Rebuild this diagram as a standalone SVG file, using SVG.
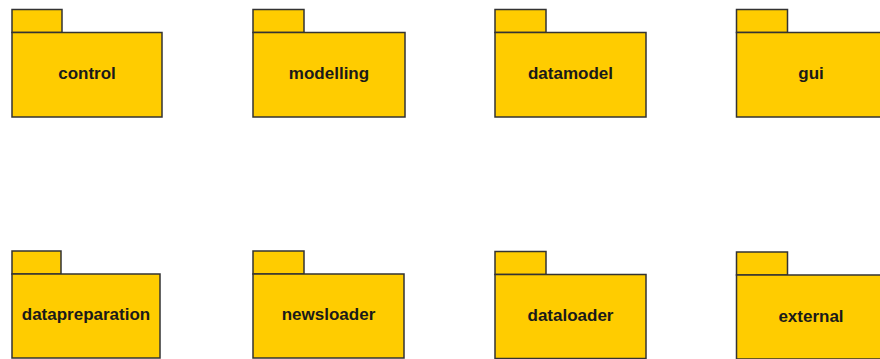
<svg xmlns="http://www.w3.org/2000/svg" width="880" height="359" viewBox="0 0 880 359">
  <style>
    .pkg rect { fill: #FFCC00; stroke: #333333; stroke-width: 1.5; }
    .pkg text { font-family: "Liberation Sans", Arial, sans-serif; font-weight: bold; font-size: 17px; fill: #1a1a1a; text-anchor: middle; }
  </style>
  <rect width="880" height="359" fill="#ffffff"/>

  <!-- top row of packages -->
  <g id="control" class="pkg">
    <rect x="12" y="9.5" width="50" height="23"/>
    <rect x="12" y="32.5" width="150" height="84.5"/>
    <text x="87" y="79">control</text>
  </g>
  <g id="modelling" class="pkg">
    <rect x="253" y="9.5" width="51" height="23"/>
    <rect x="253" y="32.5" width="152" height="84.5"/>
    <text x="329" y="79">modelling</text>
  </g>
  <g id="datamodel" class="pkg">
    <rect x="495" y="9.5" width="51" height="23"/>
    <rect x="495" y="32.5" width="151" height="84.5"/>
    <text x="570.5" y="79">datamodel</text>
  </g>
  <g id="gui" class="pkg">
    <rect x="736.5" y="9.5" width="51" height="23"/>
    <rect x="736.5" y="32.5" width="150" height="84.5"/>
    <text x="811" y="79">gui</text>
  </g>

  <!-- bottom row of packages -->
  <g id="datapreparation" class="pkg">
    <rect x="12" y="251" width="49" height="23"/>
    <rect x="12" y="274" width="148" height="84"/>
    <text x="86" y="320">datapreparation</text>
  </g>
  <g id="newsloader" class="pkg">
    <rect x="253" y="251" width="51" height="23"/>
    <rect x="253" y="274" width="151" height="84"/>
    <text x="328.5" y="320">newsloader</text>
  </g>
  <g id="dataloader" class="pkg">
    <rect x="495" y="251.5" width="51" height="23"/>
    <rect x="495" y="274.5" width="151" height="84"/>
    <text x="570.5" y="320.5">dataloader</text>
  </g>
  <g id="external" class="pkg">
    <rect x="736.5" y="252" width="51" height="23"/>
    <rect x="736.5" y="275" width="150" height="84"/>
    <text x="811" y="321.5">external</text>
  </g>

  <g id="connectors"/>
</svg>
